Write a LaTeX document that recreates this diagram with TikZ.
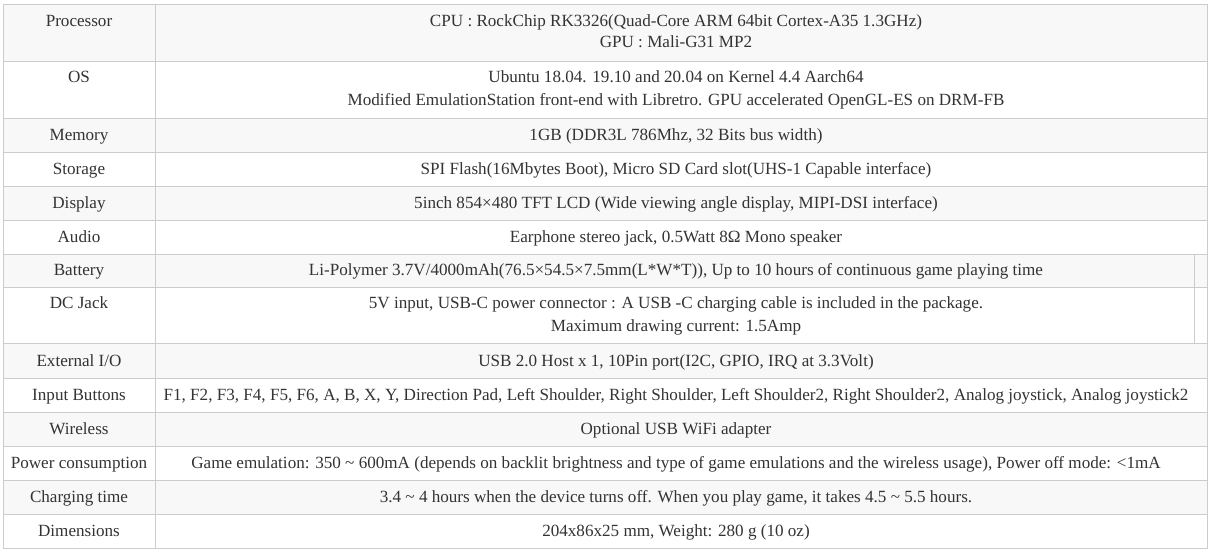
\documentclass[tikz,border=0pt]{standalone}
\usepackage{fontspec}
\setmainfont{Liberation Serif}
\definecolor{grid}{HTML}{CCCCCC}
\definecolor{band}{HTML}{F8F8F8}
\definecolor{txt}{HTML}{333333}
\tikzset{cell/.style={anchor=base,text=txt,font=\fontsize{17.1}{21}\selectfont,inner sep=0pt}}
\begin{document}
\begin{tikzpicture}[x=1pt,y=-1pt]
\useasboundingbox (0,0) rectangle (1211,552);
\def\rows{4/61/1,61/118/0,118/152/1,152/186/0,186/220/1,220/254/0,254/287/1,287/343/0,343/378/1,378/412/0,412/446/1,446/480/0,480/514/1,514/548/0}
\foreach \a/\b/\g in \rows {
  \ifnum\g=1 \fill[band] (3,\a) rectangle (1207,\b); \fi
  \draw[grid] (3,\a) rectangle (1207,\b);
}
\draw[grid] (155.5,4) -- (155.5,548);
\draw[grid] (1194,254) -- (1194,343);
\def\L{79}\def\R{676}
\node[cell] (l1) at (\L,26) {Processor};
\node[cell] (r1) at (\R,26) {CPU : RockChip RK3326(Quad-Core ARM 64bit Cortex-A35 1.3GHz)};
\node[cell] (r1b) at (\R,47) {GPU : Mali-G31 MP2};
\node[cell] (l2) at (\L,82) {OS};
\node[cell] (r2) at (\R,82) {Ubuntu 18.04. 19.10 and 20.04 on Kernel 4.4 Aarch64};
\node[cell] (r2b) at (\R,105) {Modified EmulationStation front-end with Libretro. GPU accelerated OpenGL-ES on DRM-FB};
\node[cell] (l3) at (\L,140) {Memory};
\node[cell] (r3) at (\R,140) {1GB (DDR3L 786Mhz, 32 Bits bus width)};
\node[cell] (l4) at (\L,174) {Storage};
\node[cell] (r4) at (\R,174) {SPI Flash(16Mbytes Boot), Micro SD Card slot(UHS-1 Capable interface)};
\node[cell] (l5) at (\L,208) {Display};
\node[cell] (r5) at (\R,208) {5inch 854×480 TFT LCD (Wide viewing angle display, MIPI-DSI interface)};
\node[cell] (l6) at (\L,242) {Audio};
\node[cell] (r6) at (\R,242) {Earphone stereo jack, 0.5Watt 8Ω Mono speaker};
\node[cell] (l7) at (\L,275) {Battery};
\node[cell] (r7) at (\R,275) {Li-Polymer 3.7V/4000mAh(76.5×54.5×7.5mm(L*W*T)), Up to 10 hours of continuous game playing time};
\node[cell] (l8) at (\L,308) {DC Jack};
\node[cell] (r8) at (\R,308) {5V input, USB-C power connector : A USB -C charging cable is included in the package.};
\node[cell] (r8b) at (\R,331) {Maximum drawing current: 1.5Amp};
\node[cell] (l9) at (\L,366) {External I/O};
\node[cell] (r9) at (\R,366) {USB 2.0 Host x 1, 10Pin port(I2C, GPIO, IRQ at 3.3Volt)};
\node[cell] (l10) at (\L,400) {Input Buttons};
\node[cell] (r10) at (\R,400) {F1, F2, F3, F4, F5, F6, A, B, X, Y, Direction Pad, Left Shoulder, Right Shoulder, Left Shoulder2, Right Shoulder2, Analog joystick, Analog joystick2};
\node[cell] (l11) at (\L,434) {Wireless};
\node[cell] (r11) at (\R,434) {Optional USB WiFi adapter};
\node[cell] (l12) at (\L,468) {Power consumption};
\node[cell] (r12) at (\R,468) {Game emulation: 350 \textasciitilde{} 600mA (depends on backlit brightness and type of game emulations and the wireless usage), Power off mode: <1mA};
\node[cell] (l13) at (\L,502) {Charging time};
\node[cell] (r13) at (\R,502) {3.4 \textasciitilde{} 4 hours when the device turns off. When you play game, it takes 4.5 \textasciitilde{} 5.5 hours.};
\node[cell] (l14) at (\L,536) {Dimensions};
\node[cell] (r14) at (\R,536) {204x86x25 mm, Weight: 280 g (10 oz)};
\end{tikzpicture}
\end{document}
